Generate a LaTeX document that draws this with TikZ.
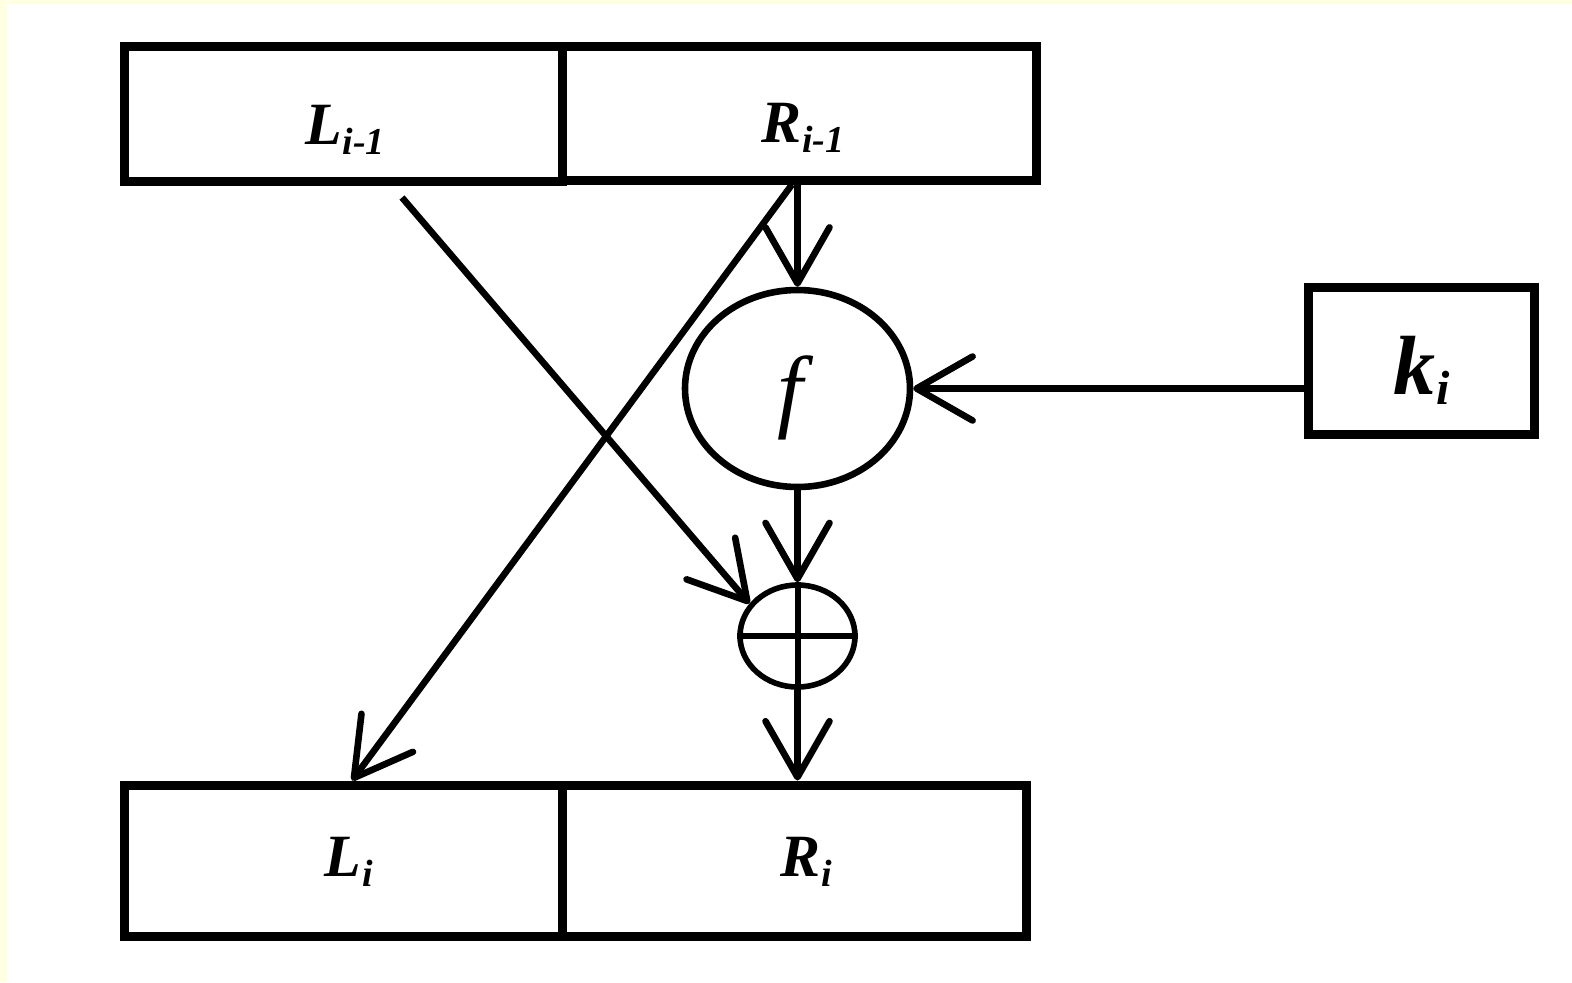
\documentclass[tikz,border=0pt]{standalone}
\usepackage{fontspec}
\setmainfont{Liberation Serif}
\usetikzlibrary{arrows.meta,shapes.geometric,calc}
\definecolor{bgyellow}{RGB}{255,255,225}
\newcommand\sublab[2]{{\fontsize{30}{30}\selectfont\bfseries\itshape #1}\kern0.5pt\raisebox{-5pt}{\fontsize{19}{19}\selectfont\bfseries\itshape #2}}
\tikzset{
  regbox/.style={draw, line width=4.5pt, rectangle, inner sep=0pt},
  func/.style={draw, line width=3.3pt, ellipse, inner sep=0pt},
  conn/.style={line width=3.3pt, -{Straight Barb[length=28pt,width=32pt,round]}},
  plain/.style={line width=3pt}
}
\begin{document}
\begin{tikzpicture}[x=0.5pt,y=-0.5pt]
\useasboundingbox (0,0) rectangle (1572,982);
\fill[bgyellow] (0,0) rectangle (1572,982);
\fill[white] (7,4) rectangle (1572,982);

\node[regbox, minimum width=219pt, minimum height=67.5pt] (Lt) at (343,113.5) {};
\node[regbox, minimum width=237pt, minimum height=67pt] (Rt) at (799,113) {};
\node[regbox, minimum width=219pt, minimum height=75.5pt] (Lb) at (343,860.5) {};
\node[regbox, minimum width=232pt, minimum height=75.5pt] (Rb) at (794,860.5) {};
\node[regbox, minimum width=113pt, minimum height=73.5pt] (k) at (1421,360.5) {};

\node (tLt) at (345,130) {\sublab{L}{i-1}};
\node (tRt) at (803,128) {\sublab{R}{i-1}};
\node (tLb) at (349,862) {\sublab{L}{i}};
\node (tRb) at (806,862) {\sublab{R}{i}};
\node (tk) at (1422,370) {{\fontsize{42}{42}\selectfont\bfseries\itshape k}\kern0.5pt\raisebox{-5pt}{\fontsize{24}{24}\selectfont\bfseries\itshape i}};

\node[func, minimum width=112.5pt, minimum height=98.5pt] (f) at (797.5,388.5) {};
\node (tf) at (790,398) {\fontsize{46}{46}\selectfont\itshape f};
\node[draw, line width=2.8pt, ellipse, inner sep=0pt, minimum width=57.5pt, minimum height=51pt] (xor) at (797.5,636) {};

\draw[plain] (xor.west) -- (xor.east);
\draw[plain] (xor.north) -- (xor.south);
\draw[conn] (f.north |- Rt.south) -- (f.north);
\draw[conn] ([xshift=-3.5pt]Rt.south) -- ([xshift=4.5pt]Lb.north);
\draw[conn] ([xshift=29.5pt,yshift=-6pt]Lt.south) -- (xor.146);
\draw[conn] (f.south) -- (xor.north);
\draw[conn] (xor.south) -- (xor.south |- Rb.north);
\draw[conn] (k.west |- f.east) -- (f.east);
\end{tikzpicture}
\end{document}
